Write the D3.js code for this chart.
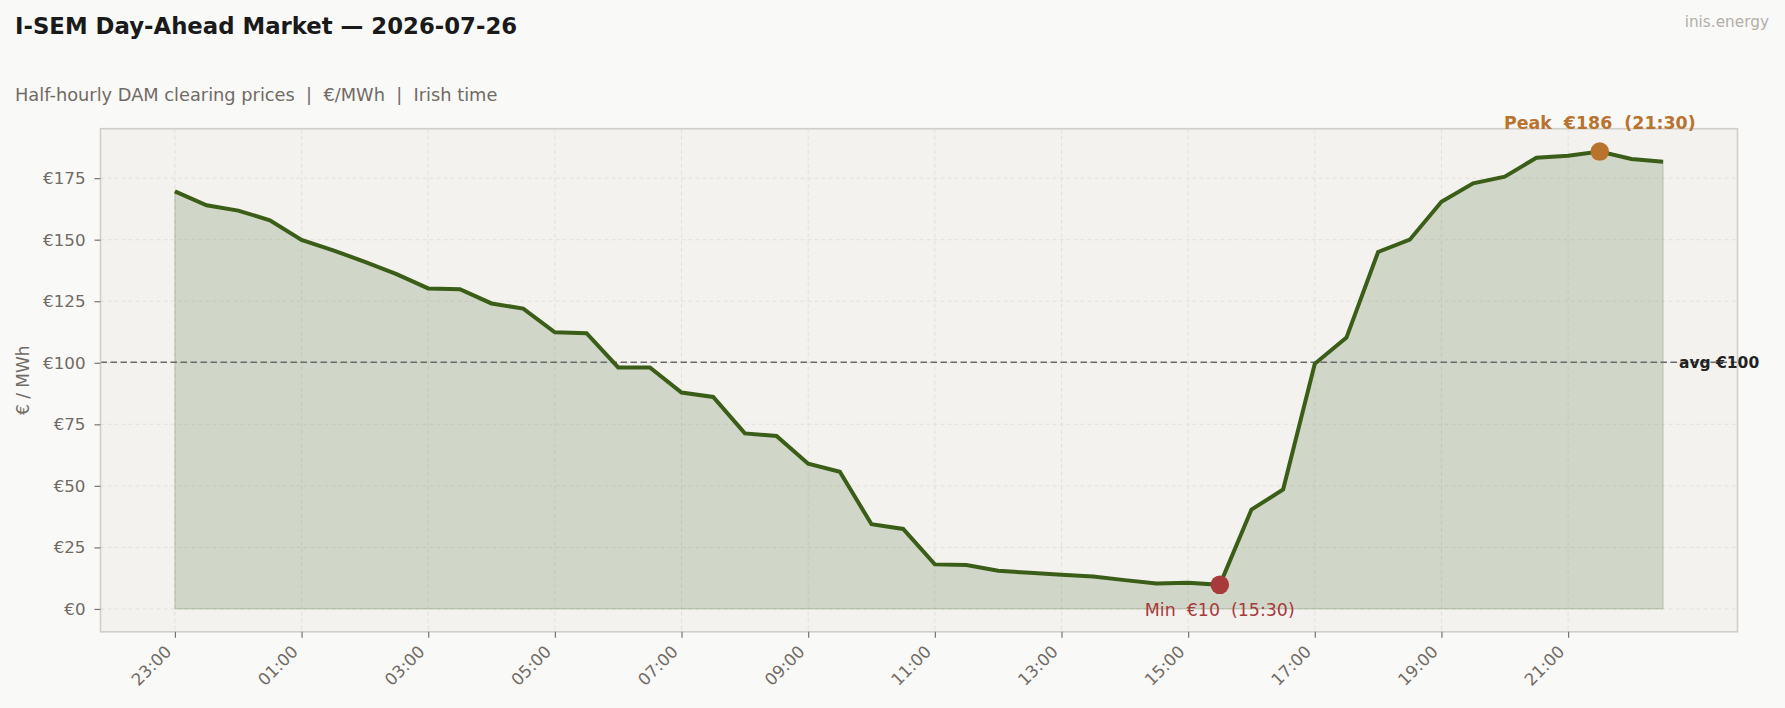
<!DOCTYPE html>
<html>
<head>
<meta charset="utf-8">
<script src="https://cdn.jsdelivr.net/npm/d3@7"></script>
<style>
  html, body { margin: 0; padding: 0; background: #f9f9f7; }
  svg { display: block; font-family: "DejaVu Sans", sans-serif; }
</style>
</head>
<body>
<svg id="chart" width="1785" height="708"></svg>
<script>
// ---- Data ----
const times = ["23:00","23:30","00:00","00:30","01:00","01:30","02:00","02:30","03:00","03:30","04:00","04:30",
  "05:00","05:30","06:00","06:30","07:00","07:30","08:00","08:30","09:00","09:30","10:00","10:30",
  "11:00","11:30","12:00","12:30","13:00","13:30","14:00","14:30","15:00","15:30","16:00","16:30",
  "17:00","17:30","18:00","18:30","19:00","19:30","20:00","20:30","21:00","21:30","22:00","22:30"];
const prices = [169.6,164.0,161.8,157.9,149.9,145.7,141.0,136.0,130.2,129.9,124.1,122.0,
  112.4,112.0,98.1,98.1,87.9,86.1,71.3,70.3,59.0,55.7,34.4,32.5,
  18.1,17.8,15.5,14.7,13.9,13.2,11.7,10.3,10.6,9.8,40.4,48.5,
  99.6,110.2,145.0,150.0,165.4,172.9,175.6,183.3,184.1,185.8,182.8,181.7];
const xTickLabels = ["23:00","01:00","03:00","05:00","07:00","09:00","11:00","13:00","15:00","17:00","19:00","21:00"];
const yTickValues = [0,25,50,75,100,125,150,175];

const titleText = "I-SEM Day-Ahead Market \u2014 2026-07-26";
const subtitleText = "Half-hourly DAM clearing prices  |  \u20ac/MWh  |  Irish time";
const brandText = "inis.energy";
const yLabelText = "\u20ac / MWh";

// ---- Layout ----
const W = 1785, H = 708;
const plot = {left: 100.5, right: 1737.5, top: 128.7, bottom: 631.8};
const C = {
  bg: "#f9f9f7", plotBg: "#f3f2ef", frame: "#d2cec8", grid: "#e3e0db",
  line: "#3a5e17", peak: "#b8732f", min: "#a83a3c", text: "#1a1a1a", muted: "#716b65",
  brand: "#b3aea8", avg: "#6a6a6a"
};

const svg = d3.select("#chart");
svg.append("rect").attr("width", W).attr("height", H).attr("fill", C.bg);

const n = prices.length;
const xm = (n - 1) * 0.05;
const x = d3.scaleLinear().domain([-xm, n - 1 + xm]).range([plot.left, plot.right]);
const yMax = d3.max(prices), ym = yMax * 0.05;
const y = d3.scaleLinear().domain([0 - ym, yMax + ym]).range([plot.bottom, plot.top]);

// plot background
svg.append("rect")
  .attr("x", plot.left).attr("y", plot.top)
  .attr("width", plot.right - plot.left).attr("height", plot.bottom - plot.top)
  .attr("fill", C.plotBg);

const xTickIdx = xTickLabels.map(l => times.indexOf(l));

// grid
const g = svg.append("g");
g.selectAll(".gy").data(yTickValues).join("line")
  .attr("x1", plot.left).attr("x2", plot.right)
  .attr("y1", d => y(d)).attr("y2", d => y(d))
  .attr("stroke", C.grid).attr("stroke-width", 1).attr("stroke-dasharray", "4,3");
g.selectAll(".gx").data(xTickIdx).join("line")
  .attr("x1", d => x(d)).attr("x2", d => x(d))
  .attr("y1", plot.top).attr("y2", plot.bottom)
  .attr("stroke", C.grid).attr("stroke-width", 1).attr("stroke-dasharray", "4,3");

// area
const area = d3.area().x((d, i) => x(i)).y0(y(0)).y1(d => y(d));
svg.append("path").datum(prices).attr("d", area)
  .attr("fill", C.line).attr("fill-opacity", 0.18)
  .attr("stroke", C.line).attr("stroke-opacity", 0.2).attr("stroke-width", 1.2);

// average line
const avg = d3.mean(prices);
svg.append("line")
  .attr("x1", plot.left).attr("x2", plot.right)
  .attr("y1", y(avg)).attr("y2", y(avg))
  .attr("stroke", C.avg).attr("stroke-width", 1.6).attr("stroke-dasharray", "6.5,3.5");

// price line
const line = d3.line().x((d, i) => x(i)).y(d => y(d));
svg.append("path").datum(prices).attr("d", line)
  .attr("fill", "none").attr("stroke", C.line).attr("stroke-width", 4)
  .attr("stroke-linejoin", "miter").attr("stroke-linecap", "butt");

// frame
svg.append("rect")
  .attr("x", plot.left).attr("y", plot.top)
  .attr("width", plot.right - plot.left).attr("height", plot.bottom - plot.top)
  .attr("fill", "none").attr("stroke", C.frame).attr("stroke-width", 1.6);

// axes
const yAxis = d3.axisLeft(y).tickValues(yTickValues).tickSize(6).tickPadding(9)
  .tickFormat(d => "\u20ac" + d);
const ya = svg.append("g").attr("transform", `translate(${plot.left},0)`).call(yAxis);
ya.select(".domain").remove();
ya.selectAll(".tick line").attr("stroke", "#7a746e").attr("stroke-width", 1.2);
ya.selectAll(".tick text").attr("fill", C.muted).attr("font-size", 16.7)
  .attr("font-family", "DejaVu Sans");

const xAxis = d3.axisBottom(x).tickValues(xTickIdx).tickSize(6)
  .tickFormat((d, i) => xTickLabels[i]);
const xa = svg.append("g").attr("transform", `translate(0,${plot.bottom})`).call(xAxis);
xa.select(".domain").remove();
xa.selectAll(".tick line").attr("stroke", "#7a746e").attr("stroke-width", 1.2);
xa.selectAll(".tick text")
  .attr("fill", C.muted).attr("font-size", 16.7).attr("font-family", "DejaVu Sans")
  .attr("text-anchor", "end").attr("dy", null).attr("y", 0).attr("x", 0)
  .attr("transform", "translate(-3,21) rotate(-45)");

// y label
svg.append("text")
  .attr("transform", `translate(29,${(plot.top + plot.bottom) / 2}) rotate(-90)`)
  .attr("text-anchor", "middle").attr("fill", C.muted).attr("font-size", 17)
  .text(yLabelText);

// avg label
svg.append("text")
  .attr("x", 1679).attr("y", y(avg)).attr("dy", "0.35em")
  .attr("font-size", 15.5).attr("font-weight", "bold").attr("fill", "#222")
  .text("avg \u20ac" + Math.round(avg));

// peak & min
const iMax = d3.maxIndex(prices), iMin = d3.minIndex(prices);
svg.append("circle").attr("cx", x(iMax)).attr("cy", y(prices[iMax])).attr("r", 9.3).attr("fill", C.peak);
svg.append("circle").attr("cx", x(iMin)).attr("cy", y(prices[iMin])).attr("r", 9.3).attr("fill", C.min);
svg.append("text")
  .attr("x", x(iMax)).attr("y", y(prices[iMax]) - 23)
  .attr("text-anchor", "middle").attr("font-size", 17.4).attr("font-weight", "bold").attr("fill", C.peak)
  .style("white-space", "pre")
  .text(`Peak  \u20ac${Math.round(prices[iMax])}  (${times[iMax]})`);
svg.append("text")
  .attr("x", x(iMin)).attr("y", y(prices[iMin]) + 31)
  .attr("text-anchor", "middle").attr("font-size", 17.4).attr("fill", C.min)
  .style("white-space", "pre")
  .text(`Min  \u20ac${Math.round(prices[iMin])}  (${times[iMin]})`);

// titles
svg.append("text").attr("x", 15).attr("y", 34)
  .attr("font-size", 22.8).attr("font-weight", "bold").attr("fill", C.text)
  .text(titleText);
svg.append("text").attr("x", 15).attr("y", 101)
  .attr("font-size", 17.8).attr("fill", C.muted).style("white-space", "pre")
  .text(subtitleText);
svg.append("text").attr("x", 1769).attr("y", 27)
  .attr("text-anchor", "end").attr("font-size", 15.3).attr("fill", C.brand)
  .text(brandText);
</script>
</body>
</html>
